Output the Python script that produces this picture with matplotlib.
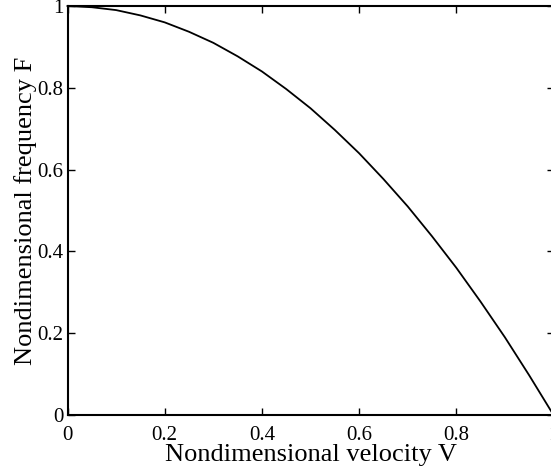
import matplotlib
matplotlib.use("Agg")
import matplotlib.pyplot as plt

# values
velocity = [0.0, 0.05, 0.1, 0.15, 0.2, 0.25, 0.3, 0.35, 0.4, 0.45, 0.5,
            0.55, 0.6, 0.65, 0.7, 0.75, 0.8, 0.85, 0.9, 0.95, 1.0]
frequency = [1.0, 0.997, 0.99, 0.977, 0.96, 0.937, 0.91, 0.877, 0.84, 0.797, 0.75,
             0.697, 0.64, 0.577, 0.51, 0.437, 0.36, 0.277, 0.19, 0.097, 0.0]
xticks = [0, 0.2, 0.4, 0.6, 0.8, 1]
xticklabels = ["0", "0.2", "0.4", "0.6", "0.8", "1"]
yticks = [0, 0.2, 0.4, 0.6, 0.8, 1]
yticklabels = ["0", "0.2", "0.4", "0.6", "0.8", "1"]

plt.rcParams["font.family"] = ["Liberation Serif", "DejaVu Serif"]

fig = plt.figure(figsize=(5.51, 4.74), dpi=100)
# axes run slightly past the right edge, as in the reference
ax = fig.add_axes([67.5 / 551, 59 / 474, 486 / 551, 409 / 474])

ax.plot(velocity, frequency, color="black", lw=1.3, clip_on=False)

ax.set_xlim(0, 1)
ax.set_ylim(0, 1)
ax.set_xticks(xticks)
ax.set_xticklabels(xticklabels)
ax.set_yticks(yticks)
ax.set_yticklabels(yticklabels)
ax.tick_params(direction="in", length=5, width=1, labelsize=15,
               top=True, right=True)
ax.tick_params(axis="x", pad=8)
ax.tick_params(axis="y", pad=3)
for s in ax.spines.values():
    s.set_linewidth(1.5)

ax.set_xlabel("Nondimensional velocity V", fontsize=19, labelpad=-1)
ax.set_ylabel("Nondimensional frequency F", fontsize=19, labelpad=0)

fig.savefig("out.png", dpi=100)
